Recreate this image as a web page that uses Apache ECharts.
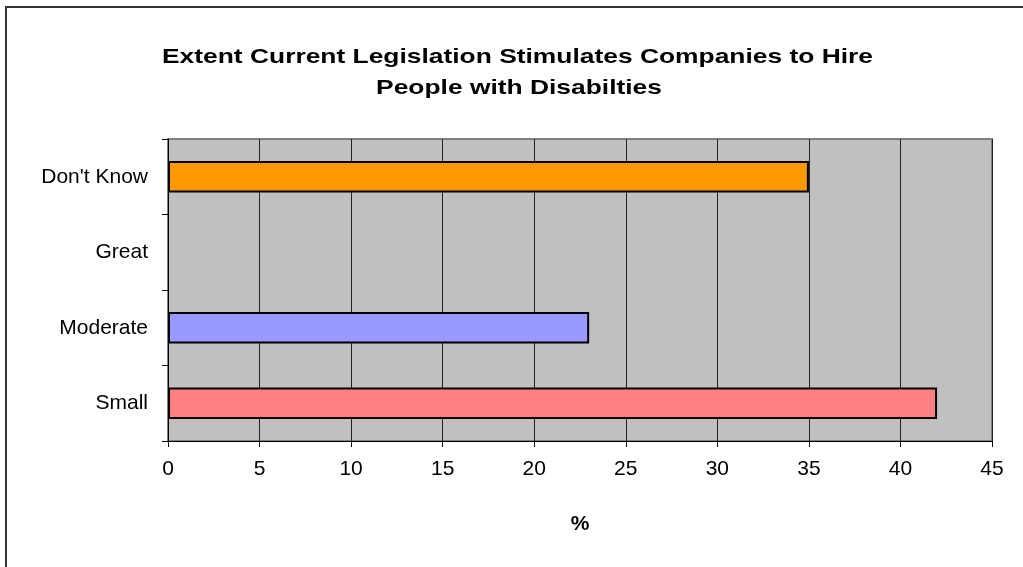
<!DOCTYPE html>
<html>
<head>
<meta charset="utf-8">
<script src="https://cdn.jsdelivr.net/npm/echarts@6/dist/echarts.min.js"></script>
<style>
  html, body { margin: 0; padding: 0; background: #ffffff; }
  #chart { width: 1023px; height: 567px; }
</style>
</head>
<body>
<div id="chart"></div>
<script>
// Response categories, listed bottom to top
const categories = ['Small', 'Moderate', 'Great', "Don't Know"];
// Share of respondents (%); "Great" had no responses
const percentages = [42, 23, null, 35];
const barColors = ['#FF8080', '#9999FF', '#FF9900', '#FF9900'];
const xTicks = { min: 0, max: 45, interval: 5 };
const titleLines = ['Extent Current Legislation Stimulates Companies to Hire', 'People with Disabilties'];

const font = '"Liberation Sans", Arial, sans-serif';
const titleFont = 'bold 21px ' + font;

// The title is set with wide tracking; widen it horizontally to its full span
const ctx = document.createElement('canvas').getContext('2d');
ctx.font = titleFont;
const titleScale = 711 / ctx.measureText(titleLines[0]).width;

const chart = echarts.init(document.getElementById('chart'), null, { renderer: 'canvas' });

chart.setOption({
  backgroundColor: '#ffffff',
  animation: false,
  graphic: [
    {
      type: 'rect',
      shape: { x: 6, y: 7, width: 1040, height: 600 },
      style: { fill: 'none', stroke: '#333333', lineWidth: 2 },
      silent: true
    },
    {
      type: 'text', x: 517.5, y: 57, scaleX: titleScale,
      style: { text: titleLines[0], font: titleFont, fill: '#000', textAlign: 'center', textVerticalAlign: 'middle' }
    },
    {
      type: 'text', x: 519, y: 88, scaleX: titleScale,
      style: { text: titleLines[1], font: titleFont, fill: '#000', textAlign: 'center', textVerticalAlign: 'middle' }
    }
  ],
  grid: { left: 168, right: 31, top: 139, bottom: 126, show: true, backgroundColor: '#C0C0C0', borderColor: '#808080', borderWidth: 2 },
  xAxis: {
    type: 'value',
    min: xTicks.min, max: xTicks.max, interval: xTicks.interval,
    name: '%',
    nameLocation: 'middle',
    nameGap: 73,
    nameTextStyle: { fontFamily: font, fontSize: 21, fontWeight: 'bold', color: '#000' },
    axisLine: { show: true, lineStyle: { color: '#000', width: 1 } },
    axisTick: { show: true, length: 6, lineStyle: { color: '#000' } },
    axisLabel: { fontFamily: font, fontSize: 21, color: '#000', margin: 18 },
    splitLine: { show: true, lineStyle: { color: '#222', width: 1 } }
  },
  yAxis: {
    type: 'category',
    data: categories,
    axisLine: { show: true, lineStyle: { color: '#000', width: 1 } },
    axisTick: { show: true, length: 6, lineStyle: { color: '#000' } },
    axisLabel: { fontFamily: font, fontSize: 21, color: '#000', margin: 20 },
    splitLine: { show: false }
  },
  series: [{
    type: 'bar',
    barCategoryGap: '58%',
    data: percentages.map((v, i) => ({
      value: v,
      itemStyle: { color: barColors[i], borderColor: '#000', borderWidth: 2 }
    }))
  }]
});
</script>
</body>
</html>
